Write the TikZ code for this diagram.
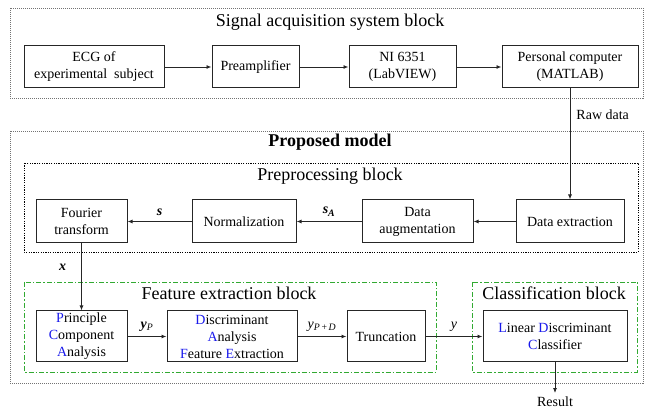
\documentclass[tikz,border=0pt]{standalone}
\usepackage{fontspec}
\setmainfont{Liberation Serif}
\usetikzlibrary{arrows.meta}
\definecolor{initblue}{RGB}{25,25,235}
\definecolor{blockgreen}{RGB}{50,170,50}
\newcommand{\ini}[1]{\textcolor{initblue}{#1}}
\tikzset{
	blk/.style={draw=black!85, line width=1pt, align=center, inner sep=0pt, font=\fontsize{14}{17}\selectfont},
	lbl/.style={font=\fontsize{14}{17}\selectfont, inner sep=1pt},
	ttl/.style={font=\fontsize{18}{21}\selectfont, anchor=base, inner sep=0pt},
	flow/.style={-{Latex[length=5pt,width=4pt]}, line width=0.9pt, draw=black!85},
	outerbox/.style={draw=black!55, line width=0.8pt, dash pattern=on 1pt off 1pt},
	innerbox/.style={draw=black, line width=0.8pt, dash pattern=on 1.2pt off 1.2pt},
	greenbox/.style={draw=blockgreen, line width=0.9pt, dash pattern=on 5pt off 2pt on 1.5pt off 2pt}
}
\begin{document}
\begin{tikzpicture}[x=1pt, y=-1pt]
			\useasboundingbox (0,0) rectangle (646,411);
			
			\draw[outerbox] (10,8) rectangle (643,98);
			\node[ttl] (acqtitle) at (330,27) {Signal acquisition system block};
			\node[blk, minimum width=140pt, minimum height=42pt] (ecg) at (94,67) {ECG of\\experimental\ \ subject};
			\node[blk, minimum width=87pt, minimum height=42pt] (preamp) at (255.5,67) {Preamplifier};
			\node[blk, minimum width=107pt, minimum height=42pt] (ni) at (402.5,67) {NI 6351\\(LabVIEW)};
			\node[blk, minimum width=136pt, minimum height=42pt] (pc) at (570,67) {Personal computer\\(MATLAB)};
			\draw[flow] (ecg) -- (preamp);
			\draw[flow] (preamp) -- (ni);
			\draw[flow] (ni) -- (pc);
			
			\draw[outerbox] (10,131) rectangle (643,383);
			\node[ttl, font=\fontsize{18}{21}\selectfont\bfseries] (modeltitle) at (330,147) {Proposed model};
			
			\draw[innerbox] (24,163) rectangle (638,252);
			\node[ttl] (pretitle) at (330,181) {Preprocessing block};
			\node[blk, minimum width=91pt, minimum height=43pt] (fourier) at (81.5,221.5) {Fourier\\transform};
			\node[blk, minimum width=104pt, minimum height=43pt] (norm) at (244,221.5) {Normalization};
			\node[blk, minimum width=111pt, minimum height=43pt] (augm) at (417.5,221.5) {Data\\augmentation};
			\node[blk, minimum width=108pt, minimum height=43pt] (extr) at (570,221.5) {Data extraction};
			\draw[flow] (pc) -- node[pos=0.24, right=5pt, lbl] {Raw data} (extr);
			\draw[flow] (extr) -- (augm);
			\draw[flow] (augm) -- node[midway, above=4pt, lbl] {\textbf{\textit{s}}\textsubscript{\textbf{\textit{A}}}} (norm);
			\draw[flow] (norm) -- node[midway, above=4pt, lbl] {\textbf{\textit{s}}} (fourier);
			
			\draw[greenbox] (24,282) rectangle (436,372);
			\node[ttl] (feattitle) at (229,300) {Feature extraction block};
			\node[blk, minimum width=91pt, minimum height=51pt] (pca) at (81.5,336.5) {\ini{P}rinciple\\\ini{C}omponent\\\ini{A}nalysis};
			\node[blk, minimum width=130pt, minimum height=51pt] (dafe) at (232,336.5) {\ini{D}iscriminant\\\ini{A}nalysis\\\ini{F}eature \ini{E}xtraction};
			\node[blk, minimum width=78pt, minimum height=51pt] (trunc) at (386,336.5) {Truncation};
			
			\draw[greenbox] (472,282) rectangle (637,372);
			\node[ttl] (clstitle) at (554,300) {Classification block};
			\node[blk, minimum width=144pt, minimum height=51pt] (ldc) at (555,336.5) {\ini{L}inear \ini{D}iscriminant\\\ini{C}lassifier};
			\node[lbl, anchor=base, inner sep=4pt] (result) at (555,407) {Result};
			
			\draw[flow] (fourier) -- node[pos=0.35, left=14pt, lbl] {\textbf{\textit{x}}} (pca);
			\draw[flow] (pca) -- node[midway, above=4pt, lbl] {\textbf{\textit{y}}\textsubscript{\textit{P}}} (dafe);
			\draw[flow] (dafe) -- node[midway, above=4pt, lbl] {\textit{y}\textsubscript{\textit{P}\,+\,\textit{D}}} (trunc);
			\draw[flow] (trunc) -- node[midway, above=4pt, lbl] {\textit{y}} (ldc);
			\draw[flow] (ldc) -- (result);
\end{tikzpicture}
\end{document}
